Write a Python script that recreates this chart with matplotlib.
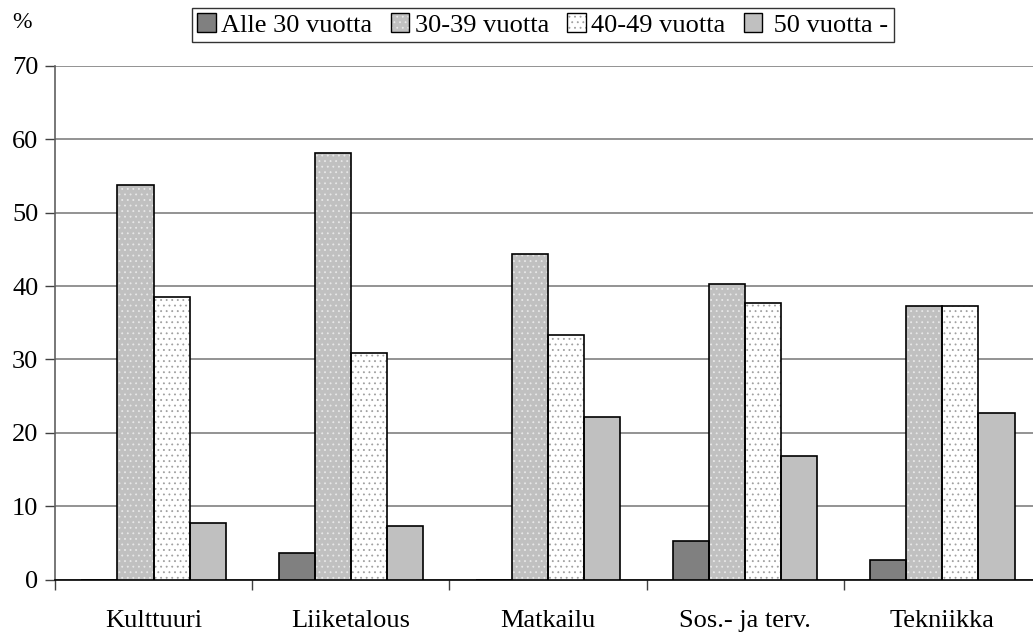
"""Age distribution by field of study, grouped bar chart."""

import matplotlib
matplotlib.use("Agg")
import matplotlib.pyplot as plt
import numpy as np
from matplotlib.patches import Patch

plt.rcParams["font.family"] = ["Liberation Serif", "DejaVu Serif"]
plt.rcParams["hatch.linewidth"] = 0.6

categories = ["Kulttuuri", "Liiketalous", "Matkailu", "Sos.- ja terv.", "Tekniikka"]
series_names = ["Alle 30 vuotta", "30-39 vuotta", "40-49 vuotta", " 50 vuotta -"]
alle_30 = [0.0, 3.6, 0.0, 5.2, 2.7]
v30_39 = [53.8, 58.2, 44.4, 40.3, 37.3]
v40_49 = [38.5, 30.9, 33.3, 37.7, 37.3]
v50_plus = [7.7, 7.3, 22.2, 16.9, 22.7]

# fill colour, dot colour, hatch
STYLES = [
    ("#808080", None, None),
    ("#c0c0c0", "#e8e8e8", "..."),
    ("#ffffff", "#a0a0a0", "..."),
    ("#c0c0c0", None, None),
]

FS = 19

fig = plt.figure(figsize=(10.33, 6.35), dpi=100)
ax = fig.add_axes([0.0532, 0.0874, 0.9545, 0.8087])

x = np.arange(len(categories)) + 0.5
width = 0.183
series = [alle_30, v30_39, v40_49, v50_plus]
handles = []
for i, (vals, (fc, dot, hatch)) in enumerate(zip(series, STYLES)):
    pos = x + (i - 1.5) * width
    if hatch:
        ax.bar(pos, vals, width, color=fc, edgecolor=dot, hatch=hatch, linewidth=0, zorder=3)
    else:
        ax.bar(pos, vals, width, color=fc, linewidth=0, zorder=3)
    ax.bar(pos, vals, width, fill=False, edgecolor="black", linewidth=1.2, zorder=4)
    fill = Patch(facecolor=fc, edgecolor=dot if dot else fc, hatch=hatch, linewidth=0)
    outline = Patch(fill=False, edgecolor="black", linewidth=1.0)
    handles.append((fill, outline))

ax.set_xlim(0, 5)
ax.set_ylim(0, 70)
ax.set_yticks(range(0, 71, 10))
ax.yaxis.grid(True, color="#808080", linewidth=1.2, zorder=0)
ax.set_axisbelow(True)

ax.set_xticks(x)
ax.set_xticklabels(categories, fontsize=FS)
ax.set_xticks(np.arange(0, 6), minor=True)
ax.tick_params(axis="x", which="major", length=0, pad=22)
ax.tick_params(axis="x", which="minor", length=7, width=1, color="#404040", direction="out")
ax.tick_params(axis="y", length=7, width=1, labelsize=FS, pad=5, color="#404040")

for side in ("top", "right"):
    ax.spines[side].set_visible(False)
ax.spines["left"].set_color("#606060")
ax.spines["left"].set_linewidth(1.2)
ax.spines["bottom"].set_color("black")
ax.spines["bottom"].set_linewidth(1.2)
ax.spines["bottom"].set_bounds(0, 5)

fig.text(22 / 1033, 1 - 22 / 635, "%", fontsize=17, ha="center", va="center")

leg = fig.legend(handles, series_names, loc="center", bbox_to_anchor=(543 / 1033, 1 - 25 / 635),
                 ncol=4, fontsize=FS, frameon=True, fancybox=False, edgecolor="black",
                 handlelength=0.7, handleheight=0.7, handletextpad=0.2, columnspacing=0.7,
                 borderpad=0.2, borderaxespad=0)
leg.get_frame().set_linewidth(1.0)

fig.savefig("out.png", dpi=100)
